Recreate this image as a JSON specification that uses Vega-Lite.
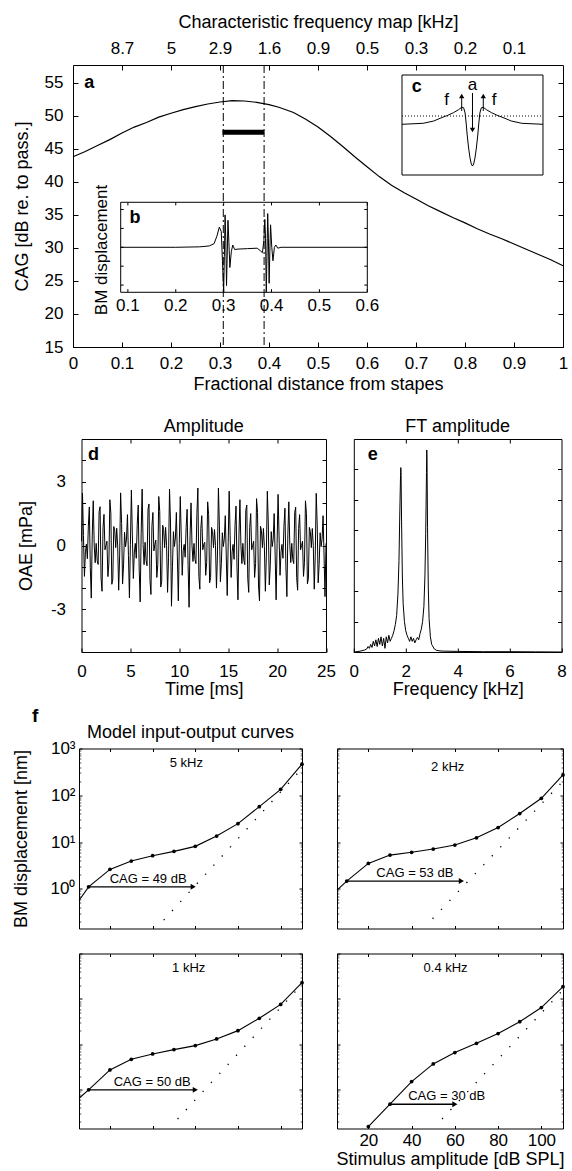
{
"$schema":"https://vega.github.io/schema/vega-lite/v6.json",
"background":"white",
"padding":{"left":11,"top":12,"right":2,"bottom":2},
"config":{
"font":"Liberation Sans",
"view":{"stroke":"black","strokeWidth":1},
"axis":{"domain":false,"grid":false,"labelFontSize":17,"titleFontSize":18,"titleFontWeight":"normal","labelColor":"black","titleColor":"black","tickColor":"black","tickWidth":1,"labelFlush":false,"labelOverlap":false,"labelFont":"Liberation Sans","titleFont":"Liberation Sans","tickSize":-4},
"title":{"font":"Liberation Sans","fontSize":18,"fontWeight":"normal","color":"black"},
"text":{"font":"Liberation Sans","color":"black"},
"line":{"color":"black","strokeWidth":1},
"rule":{"color":"black"},
"point":{"color":"black","filled":true,"opacity":1}
},
"datasets":{
"cag":[{"pos":0,"cag":43.8},{"pos":0.025,"cag":44.6},{"pos":0.05,"cag":45.5},{"pos":0.075,"cag":46.4},{"pos":0.1,"cag":47.4},{"pos":0.125,"cag":48.3},{"pos":0.15,"cag":49.0},{"pos":0.175,"cag":49.8},{"pos":0.2,"cag":50.4},{"pos":0.225,"cag":50.95},{"pos":0.25,"cag":51.4},{"pos":0.275,"cag":51.8},{"pos":0.3,"cag":52.1},{"pos":0.325,"cag":52.3},{"pos":0.35,"cag":52.25},{"pos":0.375,"cag":52.05},{"pos":0.4,"cag":51.7},{"pos":0.42,"cag":51.3},{"pos":0.45,"cag":50.5},{"pos":0.475,"cag":49.5},{"pos":0.5,"cag":48.3},{"pos":0.525,"cag":46.9},{"pos":0.55,"cag":45.4},{"pos":0.575,"cag":43.8},{"pos":0.6,"cag":42.3},{"pos":0.625,"cag":40.8},{"pos":0.65,"cag":39.5},{"pos":0.675,"cag":38.4},{"pos":0.7,"cag":37.4},{"pos":0.725,"cag":36.4},{"pos":0.75,"cag":35.5},{"pos":0.775,"cag":34.6},{"pos":0.8,"cag":33.8},{"pos":0.825,"cag":32.9},{"pos":0.85,"cag":32.1},{"pos":0.875,"cag":31.4},{"pos":0.9,"cag":30.6},{"pos":0.925,"cag":29.8},{"pos":0.95,"cag":29.0},{"pos":0.975,"cag":28.2},{"pos":1,"cag":27.3}],
"cfline":[{"pos":0.3067},{"pos":0.39}],
"bar":[{"start":0.305,"end":0.39,"cag":47.5}],
"bm":[{"pos":0.085,"disp":0},{"pos":0.2,"disp":0},{"pos":0.25,"disp":0.01},{"pos":0.27,"disp":0.03},{"pos":0.28,"disp":0.08},{"pos":0.286,"disp":0.25},{"pos":0.291,"disp":0.45},{"pos":0.295,"disp":0.35},{"pos":0.2975,"disp":-0.3},{"pos":0.3,"disp":-1.0},{"pos":0.3015,"disp":-0.2},{"pos":0.303,"disp":0.72},{"pos":0.3045,"disp":0.15},{"pos":0.306,"disp":-0.85},{"pos":0.3075,"disp":-0.15},{"pos":0.309,"disp":0.6},{"pos":0.311,"disp":0.1},{"pos":0.313,"disp":-0.45},{"pos":0.316,"disp":-0.1},{"pos":0.319,"disp":0.05},{"pos":0.323,"disp":-0.05},{"pos":0.33,"disp":-0.04},{"pos":0.35,"disp":-0.03},{"pos":0.37,"disp":-0.02},{"pos":0.377,"disp":-0.08},{"pos":0.381,"disp":-0.12},{"pos":0.384,"disp":0.15},{"pos":0.386,"disp":0.62},{"pos":0.3875,"disp":0.2},{"pos":0.389,"disp":-1.0},{"pos":0.3905,"disp":-0.2},{"pos":0.392,"disp":0.75},{"pos":0.3935,"disp":0.2},{"pos":0.395,"disp":-0.8},{"pos":0.3965,"disp":-0.1},{"pos":0.398,"disp":0.5},{"pos":0.4005,"disp":0.0},{"pos":0.403,"disp":-0.3},{"pos":0.406,"disp":0.0},{"pos":0.409,"disp":0.05},{"pos":0.413,"disp":-0.02},{"pos":0.42,"disp":0},{"pos":0.6,"disp":0}],
"bticks":[{"tick":0.1,"label":"0.1"},{"tick":0.2,"label":"0.2"},{"tick":0.3,"label":"0.3"},{"tick":0.4,"label":"0.4"},{"tick":0.5,"label":"0.5"},{"tick":0.6,"label":"0.6"}],
"byt":[{"lv":-0.84},{"lv":-0.42},{"lv":0},{"lv":0.42},{"lv":0.84}],
"cc":[{"u":-1,"v":0.507},{"u":-0.7,"v":0.517},{"u":-0.55,"v":0.54},{"u":-0.46,"v":0.567},{"u":-0.35,"v":0.597},{"u":-0.27,"v":0.623},{"u":-0.2,"v":0.652},{"u":-0.153,"v":0.677},{"u":-0.125,"v":0.672},{"u":-0.105,"v":0.62},{"u":-0.09,"v":0.52},{"u":-0.075,"v":0.4},{"u":-0.055,"v":0.27},{"u":-0.035,"v":0.17},{"u":-0.017,"v":0.11},{"u":0,"v":0.09},{"u":0.017,"v":0.11},{"u":0.035,"v":0.17},{"u":0.055,"v":0.27},{"u":0.075,"v":0.4},{"u":0.09,"v":0.52},{"u":0.105,"v":0.62},{"u":0.125,"v":0.672},{"u":0.153,"v":0.677},{"u":0.2,"v":0.652},{"u":0.27,"v":0.623},{"u":0.35,"v":0.597},{"u":0.46,"v":0.567},{"u":0.55,"v":0.54},{"u":0.7,"v":0.517},{"u":1,"v":0.507}],
"carrow":[{"u":-0.153,"from":0.64,"to":0.79,"head":"up"},{"u":0.153,"from":0.64,"to":0.79,"head":"up"},{"u":0,"from":0.82,"to":0.45,"head":"down"}],
"clab":[{"u":-0.366,"v":0.75,"label":"f"},{"u":0.305,"v":0.75,"label":"f"},{"u":0,"v":0.9,"label":"a"}],
"oae":[{"t":0,"v":0.2},{"t":0.1,"v":2.46},{"t":0.2,"v":0.47},{"t":0.3,"v":-1.45},{"t":0.4,"v":-0.3},{"t":0.5,"v":0.06},{"t":0.6,"v":-0.62},{"t":0.7,"v":0.91},{"t":0.8,"v":1.81},{"t":0.9,"v":-1.03},
{"t":1,"v":-2.47},{"t":1.1,"v":0.49},{"t":1.2,"v":2.1},{"t":1.3,"v":0.02},{"t":1.4,"v":-0.81},{"t":1.5,"v":0.1},{"t":1.6,"v":-0.69},{"t":1.7,"v":-0.89},{"t":1.8,"v":1.58},{"t":1.9,"v":1.82},
{"t":2,"v":-1.53},{"t":2.1,"v":-2.15},{"t":2.2,"v":0.83},{"t":2.3,"v":1.46},{"t":2.4,"v":-0.2},{"t":2.5,"v":0},{"t":2.6,"v":0.2},{"t":2.7,"v":-1.46},{"t":2.8,"v":-0.83},{"t":2.9,"v":2.15},
{"t":3,"v":1.53},{"t":3.1,"v":-1.82},{"t":3.2,"v":-1.58},{"t":3.3,"v":0.89},{"t":3.4,"v":0.69},{"t":3.5,"v":-0.1},{"t":3.6,"v":0.81},{"t":3.7,"v":-0.02},{"t":3.8,"v":-2.1},{"t":3.9,"v":-0.49},
{"t":4,"v":2.47},{"t":4.1,"v":1.03},{"t":4.2,"v":-1.81},{"t":4.3,"v":-0.91},{"t":4.4,"v":0.62},{"t":4.5,"v":-0.06},{"t":4.6,"v":0.3},{"t":4.7,"v":1.45},{"t":4.8,"v":-0.47},{"t":4.9,"v":-2.46},
{"t":5,"v":0.05},{"t":5.1,"v":2.6},{"t":5.2,"v":0.5},{"t":5.3,"v":-1.55},{"t":5.4,"v":-0.35},{"t":5.5,"v":0.1},{"t":5.6,"v":-0.6},{"t":5.7,"v":1.0},{"t":5.8,"v":1.9},{"t":5.9,"v":-1.1},
{"t":6,"v":-2.65},{"t":6.1,"v":0.55},{"t":6.2,"v":2.65},{"t":6.3,"v":0.05},{"t":6.4,"v":-0.9},{"t":6.5,"v":0.15},{"t":6.6,"v":-0.7},{"t":6.7,"v":-0.95},{"t":6.8,"v":1.7},{"t":6.9,"v":1.95},
{"t":7,"v":-1.6},{"t":7.1,"v":-2.3},{"t":7.2,"v":0.9},{"t":7.3,"v":1.55},{"t":7.4,"v":-0.25},{"t":7.5,"v":0.05},{"t":7.6,"v":0.25},{"t":7.7,"v":-1.5},{"t":7.8,"v":-0.9},{"t":7.9,"v":2.3},
{"t":8,"v":1.6},{"t":8.1,"v":-1.95},{"t":8.2,"v":-1.7},{"t":8.3,"v":0.95},{"t":8.4,"v":0.75},{"t":8.5,"v":-0.1},{"t":8.6,"v":0.85},{"t":8.7,"v":0},{"t":8.8,"v":-2.2},{"t":8.9,"v":-0.55},
{"t":9,"v":2.65},{"t":9.1,"v":1.1},{"t":9.2,"v":-2.85},{"t":9.3,"v":-1.0},{"t":9.4,"v":0.65},{"t":9.5,"v":-0.05},{"t":9.6,"v":0.35},{"t":9.7,"v":1.55},{"t":9.8,"v":-0.5},{"t":9.9,"v":-2.6},
{"t":10,"v":0.1},{"t":10.1,"v":2.3},{"t":10.2,"v":0.4},{"t":10.3,"v":-1.4},{"t":10.4,"v":-0.25},{"t":10.5,"v":0.05},{"t":10.6,"v":-0.55},{"t":10.7,"v":0.85},{"t":10.8,"v":1.7},{"t":10.9,"v":-0.95},
{"t":11,"v":-2.9},{"t":11.1,"v":0.45},{"t":11.2,"v":2.0},{"t":11.3,"v":0},{"t":11.4,"v":-0.75},{"t":11.5,"v":0.1},{"t":11.6,"v":-0.65},{"t":11.7,"v":-0.85},{"t":11.8,"v":1.5},{"t":11.9,"v":2.7},
{"t":12,"v":-1.45},{"t":12.1,"v":-2.05},{"t":12.2,"v":0.8},{"t":12.3,"v":1.4},{"t":12.4,"v":-0.2},{"t":12.5,"v":0.05},{"t":12.6,"v":0.15},{"t":12.7,"v":-1.4},{"t":12.8,"v":-0.8},{"t":12.9,"v":2.05},
{"t":13,"v":1.45},{"t":13.1,"v":-1.75},{"t":13.2,"v":-1.5},{"t":13.3,"v":0.85},{"t":13.4,"v":0.65},{"t":13.5,"v":-0.1},{"t":13.6,"v":0.75},{"t":13.7,"v":0},{"t":13.8,"v":-2.0},{"t":13.9,"v":-0.45},
{"t":14,"v":2.7},{"t":14.1,"v":0.95},{"t":14.2,"v":-1.7},{"t":14.3,"v":-0.85},{"t":14.4,"v":0.6},{"t":14.5,"v":-0.05},{"t":14.6,"v":0.3},{"t":14.7,"v":1.4},{"t":14.8,"v":-0.45},{"t":14.9,"v":-2.35},
{"t":15,"v":0.15},{"t":15.1,"v":2.55},{"t":15.2,"v":0.45},{"t":15.3,"v":-1.5},{"t":15.4,"v":-0.3},{"t":15.5,"v":0.05},{"t":15.6,"v":-0.65},{"t":15.7,"v":0.95},{"t":15.8,"v":1.85},{"t":15.9,"v":-1.05},
{"t":16,"v":-2.55},{"t":16.1,"v":0.5},{"t":16.2,"v":2.15},{"t":16.3,"v":0},{"t":16.4,"v":-0.85},{"t":16.5,"v":0.1},{"t":16.6,"v":-0.7},{"t":16.7,"v":-0.9},{"t":16.8,"v":1.65},{"t":16.9,"v":1.9},
{"t":17,"v":-1.55},{"t":17.1,"v":-2.2},{"t":17.2,"v":0.85},{"t":17.3,"v":1.5},{"t":17.4,"v":-0.2},{"t":17.5,"v":0},{"t":17.6,"v":0.2},{"t":17.7,"v":-1.5},{"t":17.8,"v":-0.85},{"t":17.9,"v":2.2},
{"t":18,"v":1.55},{"t":18.1,"v":-1.9},{"t":18.2,"v":-2.6},{"t":18.3,"v":0.9},{"t":18.4,"v":0.7},{"t":18.5,"v":-0.1},{"t":18.6,"v":0.8},{"t":18.7,"v":-0.05},{"t":18.8,"v":-2.15},{"t":18.9,"v":-0.5},
{"t":19,"v":2.55},{"t":19.1,"v":1.05},{"t":19.2,"v":-1.85},{"t":19.3,"v":-0.95},{"t":19.4,"v":0.65},{"t":19.5,"v":-0.05},{"t":19.6,"v":0.3},{"t":19.7,"v":1.5},{"t":19.8,"v":-0.45},{"t":19.9,"v":-2.55},
{"t":20,"v":0.1},{"t":20.1,"v":2.4},{"t":20.2,"v":0.45},{"t":20.3,"v":-1.4},{"t":20.4,"v":-0.3},{"t":20.5,"v":0.05},{"t":20.6,"v":-0.6},{"t":20.7,"v":0.9},{"t":20.8,"v":1.75},{"t":20.9,"v":-1.0},
{"t":21,"v":-2.4},{"t":21.1,"v":0.5},{"t":21.2,"v":2.05},{"t":21.3,"v":0},{"t":21.4,"v":-0.8},{"t":21.5,"v":0.1},{"t":21.6,"v":-0.65},{"t":21.7,"v":-0.85},{"t":21.8,"v":1.55},{"t":21.9,"v":1.8},
{"t":22,"v":-1.5},{"t":22.1,"v":-2.1},{"t":22.2,"v":0.8},{"t":22.3,"v":1.45},{"t":22.4,"v":-0.2},{"t":22.5,"v":0},{"t":22.6,"v":0.2},{"t":22.7,"v":-1.45},{"t":22.8,"v":-0.8},{"t":22.9,"v":2.1},
{"t":23,"v":1.5},{"t":23.1,"v":-1.8},{"t":23.2,"v":-1.55},{"t":23.3,"v":0.85},{"t":23.4,"v":0.65},{"t":23.5,"v":-0.1},{"t":23.6,"v":0.8},{"t":23.7,"v":0},{"t":23.8,"v":-2.05},{"t":23.9,"v":-0.5},
{"t":24,"v":2.45},{"t":24.1,"v":1.0},{"t":24.2,"v":-1.75},{"t":24.3,"v":-0.9},{"t":24.4,"v":0.6},{"t":24.5,"v":-0.05},{"t":24.6,"v":0.3},{"t":24.7,"v":1.4},{"t":24.8,"v":-0.45},{"t":24.9,"v":-2.4},
{"t":25,"v":0.1}],
"ft":[{"f":0,"a":0},{"f":0.2,"a":0.02},{"f":0.4,"a":0.06},{"f":0.5,"a":0.1},{"f":0.55,"a":0.18},{"f":0.6,"a":0.12},{"f":0.65,"a":0.25},{"f":0.7,"a":0.15},{"f":0.75,"a":0.35},{"f":0.8,"a":0.2},{"f":0.85,"a":0.4},{"f":0.9,"a":0.18},{"f":0.95,"a":0.45},{"f":1.0,"a":0.25},{"f":1.05,"a":0.5},{"f":1.1,"a":0.2},{"f":1.15,"a":0.45},{"f":1.2,"a":0.12},{"f":1.25,"a":0.5},{"f":1.3,"a":0.3},{"f":1.35,"a":0.55},{"f":1.4,"a":0.35},{"f":1.45,"a":0.45},{"f":1.5,"a":0.55},{"f":1.55,"a":0.7},{"f":1.6,"a":0.9},{"f":1.65,"a":1.2},{"f":1.7,"a":1.9},{"f":1.74,"a":3.0},{"f":1.77,"a":4.5},{"f":1.8,"a":5.8},{"f":1.81,"a":6.06},{"f":1.82,"a":5.9},{"f":1.84,"a":4.3},{"f":1.87,"a":2.5},{"f":1.9,"a":1.6},{"f":1.95,"a":1.0},{"f":2.0,"a":0.7},{"f":2.05,"a":0.55},{"f":2.1,"a":0.45},{"f":2.15,"a":0.35},{"f":2.2,"a":0.5},{"f":2.25,"a":0.35},{"f":2.3,"a":0.45},{"f":2.35,"a":0.3},{"f":2.4,"a":0.4},{"f":2.45,"a":0.48},{"f":2.5,"a":0.4},{"f":2.55,"a":0.6},{"f":2.6,"a":0.75},{"f":2.65,"a":1.0},{"f":2.7,"a":1.5},{"f":2.74,"a":2.5},{"f":2.77,"a":3.9},{"f":2.8,"a":5.9},{"f":2.81,"a":6.64},{"f":2.82,"a":6.3},{"f":2.84,"a":4.1},{"f":2.87,"a":2.1},{"f":2.9,"a":1.1},{"f":2.95,"a":0.5},{"f":3.0,"a":0.25},{"f":3.1,"a":0.1},{"f":3.2,"a":0.05},{"f":3.4,"a":0.03},{"f":4,"a":0.02},{"f":5,"a":0.01},{"f":6,"a":0.01},{"f":7,"a":0.005},{"f":8,"a":0}],
"io5":[{"spl":5.5,"disp":0.562,"measured":false},{"spl":10,"disp":1.1,"measured":true},{"spl":20,"disp":2.6,"measured":true},{"spl":30,"disp":3.92,"measured":true},{"spl":40,"disp":5.09,"measured":true},{"spl":50,"disp":6.31,"measured":true},{"spl":60,"disp":8.07,"measured":true},{"spl":70,"disp":13.4,"measured":true},{"spl":80,"disp":24.7,"measured":true},{"spl":90,"disp":57,"measured":true},{"spl":100,"disp":134,"measured":true},{"spl":110,"disp":461,"measured":true}],
"lin5":[{"spl":45.2,"disp":0.214},{"spl":110,"disp":372}],
"cag5":[{"from":10,"to":59,"level":1.1,"labelAt":37.9,"label":"CAG = 49 dB"}],
"io2":[{"spl":5.5,"disp":0.933,"measured":false},{"spl":10,"disp":1.46,"measured":true},{"spl":20,"disp":3.49,"measured":true},{"spl":30,"disp":5.25,"measured":true},{"spl":40,"disp":6.03,"measured":true},{"spl":50,"disp":7.08,"measured":true},{"spl":60,"disp":8.61,"measured":true},{"spl":70,"disp":12.3,"measured":true},{"spl":80,"disp":20.4,"measured":true},{"spl":90,"disp":40.7,"measured":true},{"spl":100,"disp":86.1,"measured":true},{"spl":110,"disp":272,"measured":true}],
"lin2":[{"spl":49.7,"disp":0.229},{"spl":110,"disp":200}],
"cag2":[{"from":10,"to":63,"level":1.46,"labelAt":41.5,"label":"CAG = 53 dB"}],
"io1":[{"spl":5.5,"disp":0.653,"measured":false},{"spl":10,"disp":1.0,"measured":true},{"spl":20,"disp":2.75,"measured":true},{"spl":30,"disp":4.71,"measured":true},{"spl":40,"disp":6.17,"measured":true},{"spl":50,"disp":7.69,"measured":true},{"spl":60,"disp":9.42,"measured":true},{"spl":70,"disp":13.2,"measured":true},{"spl":80,"disp":20.1,"measured":true},{"spl":90,"disp":37.5,"measured":true},{"spl":100,"disp":75.9,"measured":true},{"spl":110,"disp":228,"measured":true}],
"lin1":[{"spl":51.7,"disp":0.229},{"spl":110,"disp":209}],
"cag1":[{"from":10,"to":60,"level":1.0,"labelAt":39.8,"label":"CAG = 50 dB"}],
"io04":[{"spl":20,"disp":0.156,"measured":true},{"spl":30,"disp":0.483,"measured":true},{"spl":40,"disp":1.52,"measured":true},{"spl":50,"disp":3.72,"measured":true},{"spl":60,"disp":6.61,"measured":true},{"spl":70,"disp":10.6,"measured":true},{"spl":80,"disp":17.3,"measured":true},{"spl":90,"disp":31.6,"measured":true},{"spl":100,"disp":64.6,"measured":true},{"spl":110,"disp":186,"measured":true}],
"lin04":[{"spl":54.1,"disp":0.229},{"spl":110,"disp":158}],
"cag04":[{"from":30,"to":60,"level":0.483,"labelAt":56.2,"label":"CAG = 30 dB"}]
},
"spacing":23,
"vconcat":[
{
"width":490,"height":282,
"layer":[
{
"layer":[
{"data":{"name":"cag"},"mark":{"type":"line","strokeWidth":1.2},
"encoding":{
"x":{"field":"pos","type":"quantitative","scale":{"domain":[0,1],"nice":false,"zero":false},"axis":{"orient":"bottom","values":[0,0.1,0.2,0.3,0.4,0.5,0.6,0.7,0.8,0.9,1],"format":"~g","tickSize":-5,"labelPadding":13,"title":"Fractional distance from stapes","titlePadding":4}},
"y":{"field":"cag","type":"quantitative","scale":{"domain":[15,57.7],"nice":false,"zero":false},"axis":{"orient":"left","values":[15,20,25,30,35,40,45,50,55],"tickSize":-5,"labelPadding":15,"title":"CAG [dB re. to pass.]","titlePadding":13}}}},
{"data":{"name":"cfline"},"mark":{"type":"rule","strokeDash":[8,3,2,3],"strokeWidth":1},
"encoding":{"x":{"field":"pos","type":"quantitative","axis":{"orient":"top","values":[0.1,0.2,0.3,0.4,0.5,0.6,0.7,0.8,0.9],"labelExpr":"['8.7','5','2.9','1.6','0.9','0.5','0.3','0.2','0.1'][round(datum.value*10)-1]","tickSize":-5,"labelPadding":13,"title":"Characteristic frequency map [kHz]","titlePadding":8}}}},
{"data":{"name":"bar"},"mark":{"type":"rule","strokeWidth":5},
"encoding":{"x":{"field":"start","type":"quantitative","axis":null},"x2":{"field":"end"},
"y":{"field":"cag","type":"quantitative","axis":{"orient":"right","values":[15,20,25,30,35,40,45,50,55],"labels":false,"tickSize":-5,"title":null}}}},
{"data":{"values":[{}]},"mark":{"type":"text","fontSize":18,"fontWeight":"bold"},
"encoding":{"x":{"datum":0.033,"type":"quantitative","axis":null},"y":{"datum":55,"type":"quantitative","axis":null},"text":{"value":"a"}}}
],
"resolve":{"axis":{"x":"independent","y":"independent"}}
},
{
"layer":[
{"data":{"values":[{}]},"mark":{"type":"rect","filled":false,"color":"black","strokeWidth":1},
"encoding":{"x":{"datum":0.085,"type":"quantitative","scale":{"domain":[-0.0146,1.0087],"nice":false,"zero":false},"axis":null},"x2":{"datum":0.6},
"y":{"datum":-1,"type":"quantitative","scale":{"domain":[-2.216,4.051],"nice":false,"zero":false},"axis":null},"y2":{"datum":1}}},
{"data":{"name":"bm"},"mark":{"type":"line","strokeWidth":1},
"encoding":{"x":{"field":"pos","type":"quantitative","axis":null},"y":{"field":"disp","type":"quantitative","axis":null}}},
{"data":{"name":"bticks"},"mark":{"type":"rule"},
"encoding":{"x":{"field":"tick","type":"quantitative","axis":null},"y":{"datum":-1,"type":"quantitative","axis":null},"y2":{"datum":-0.93}}},
{"data":{"name":"bticks"},"mark":{"type":"rule"},
"encoding":{"x":{"field":"tick","type":"quantitative","axis":null},"y":{"datum":1,"type":"quantitative","axis":null},"y2":{"datum":0.93}}},
{"data":{"name":"bticks"},"mark":{"type":"text","fontSize":17,"baseline":"middle"},
"encoding":{"x":{"field":"tick","type":"quantitative","axis":null},"y":{"datum":-1.3,"type":"quantitative","axis":null},"text":{"field":"label"}}},
{"data":{"name":"byt"},"mark":{"type":"rule"},
"encoding":{"x":{"datum":0.085,"type":"quantitative","axis":null},"x2":{"datum":0.0913},"y":{"field":"lv","type":"quantitative","axis":null}}},
{"data":{"name":"byt"},"mark":{"type":"rule"},
"encoding":{"x":{"datum":0.5937,"type":"quantitative","axis":null},"x2":{"datum":0.6},"y":{"field":"lv","type":"quantitative","axis":null}}},
{"data":{"values":[{}]},"mark":{"type":"text","fontSize":18,"fontWeight":"bold"},
"encoding":{"x":{"datum":0.115,"type":"quantitative","axis":null},"y":{"datum":0.644,"type":"quantitative","axis":null},"text":{"value":"b"}}},
{"data":{"values":[{}]},"mark":{"type":"text","fontSize":17,"angle":270},
"encoding":{"x":{"datum":0.0453,"type":"quantitative","axis":null},"y":{"datum":-0.06,"type":"quantitative","axis":null},"text":{"value":"BM displacement"}}}
]
},
{
"layer":[
{"data":{"values":[{}]},"mark":{"type":"rect","fill":"white","stroke":"black","strokeWidth":1},
"encoding":{"x":{"datum":-1,"type":"quantitative","scale":{"domain":[-5.667,1.284],"nice":false,"zero":false},"axis":null},"x2":{"datum":1},
"y":{"datum":0,"type":"quantitative","scale":{"domain":[-1.72,1.1],"nice":false,"zero":false},"axis":null},"y2":{"datum":1}}},
{"data":{"values":[{}]},"mark":{"type":"rule","strokeDash":[1,2],"strokeWidth":1},
"encoding":{"x":{"datum":-1,"type":"quantitative","axis":null},"x2":{"datum":1},"y":{"datum":0.59,"type":"quantitative","axis":null}}},
{"data":{"name":"cc"},"mark":{"type":"line","strokeWidth":1},
"encoding":{"x":{"field":"u","type":"quantitative","axis":null},"y":{"field":"v","type":"quantitative","axis":null}}},
{"data":{"name":"carrow"},"mark":{"type":"rule","strokeWidth":1},
"encoding":{"x":{"field":"u","type":"quantitative","axis":null},"y":{"field":"from","type":"quantitative","axis":null},"y2":{"field":"to"}}},
{"data":{"name":"carrow"},"mark":{"type":"point","filled":true,"size":28,"color":"black","opacity":1},
"encoding":{"x":{"field":"u","type":"quantitative","axis":null},"y":{"field":"to","type":"quantitative","axis":null},
"shape":{"field":"head","type":"nominal","scale":{"domain":["up","down"],"range":["triangle-up","triangle-down"]},"legend":null}}},
{"data":{"name":"clab"},"mark":{"type":"text","fontSize":17},
"encoding":{"x":{"field":"u","type":"quantitative","axis":null},"y":{"field":"v","type":"quantitative","axis":null},"text":{"field":"label"}}},
{"data":{"values":[{}]},"mark":{"type":"text","fontSize":18,"fontWeight":"bold"},
"encoding":{"x":{"datum":-0.79,"type":"quantitative","axis":null},"y":{"datum":0.883,"type":"quantitative","axis":null},"text":{"value":"c"}}}
]
}
],
"resolve":{"scale":{"x":"independent","y":"independent"}}
},
{
"spacing":7.5,
"vconcat":[
{
"bounds":"flush",
"spacing":7.5,
"hconcat":[
{"width":1,"height":1,"view":{"stroke":null},"data":{"values":[{}]},"mark":{"type":"text","text":""},"encoding":{}},
{
"spacing":27.3,
"bounds":"flush",
"hconcat":[
{
"width":244.5,"height":213,
"title":{"text":"Amplitude","offset":3},
"layer":[
{"data":{"name":"oae"},"mark":{"type":"line","strokeWidth":1},
"encoding":{
"x":{"field":"t","type":"quantitative","scale":{"domain":[0,25],"nice":false,"zero":false},"axis":{"orient":"bottom","values":[0,5,10,15,20,25],"labelPadding":15,"title":"Time [ms]","titlePadding":1}},
"y":{"field":"v","type":"quantitative","scale":{"domain":[-5,5],"nice":false,"zero":false},"axis":{"orient":"left","values":[-4,-3,-2,-1,0,1,2,3,4],"labelExpr":"datum.value == 3 ? '3' : datum.value == 0 ? '0' : datum.value == -3 ? '-3' : ''","labelPadding":20,"title":"OAE [mPa]","titlePadding":15}}}},
{"data":{"name":"oae"},"mark":{"type":"line","opacity":0},
"encoding":{
"x":{"field":"t","type":"quantitative","axis":{"orient":"top","values":[5,10,15,20],"labels":false,"title":null}},
"y":{"field":"v","type":"quantitative","axis":{"orient":"right","values":[-4,-3,-2,-1,0,1,2,3,4],"labels":false,"title":null}}}},
{"data":{"values":[{}]},"mark":{"type":"text","fontSize":18,"fontWeight":"bold"},
"encoding":{"x":{"datum":1.23,"type":"quantitative","axis":null},"y":{"datum":4.27,"type":"quantitative","axis":null},"text":{"value":"d"}}}
],
"resolve":{"axis":{"x":"independent","y":"independent"}}
},
{
"width":207.7,"height":213,
"title":{"text":"FT amplitude","offset":3},
"layer":[
{"data":{"name":"ft"},"mark":{"type":"line","strokeWidth":1},
"encoding":{
"x":{"field":"f","type":"quantitative","scale":{"domain":[0,8],"nice":false,"zero":false},"axis":{"orient":"bottom","values":[0,2,4,6,8],"labelPadding":15,"title":"Frequency [kHz]","titlePadding":1}},
"y":{"field":"a","type":"quantitative","scale":{"domain":[0,7],"nice":false,"zero":false},"axis":{"orient":"left","values":[1,2,3,4,5,6],"labels":false,"title":null}}}},
{"data":{"name":"ft"},"mark":{"type":"line","opacity":0},
"encoding":{
"x":{"field":"f","type":"quantitative","axis":{"orient":"top","values":[2,4,6],"labels":false,"title":null}},
"y":{"field":"a","type":"quantitative","axis":{"orient":"right","values":[1,2,3,4,5,6],"labels":false,"title":null}}}},
{"data":{"values":[{}]},"mark":{"type":"text","fontSize":18,"fontWeight":"bold"},
"encoding":{"x":{"datum":0.73,"type":"quantitative","axis":null},"y":{"datum":6.49,"type":"quantitative","axis":null},"text":{"value":"e"}}}
],
"resolve":{"axis":{"x":"independent","y":"independent"}}
}
]
}
]
},
{
"bounds":"flush",
"spacing":5,
"hconcat":[
{"width":1,"height":1,"view":{"stroke":null},"data":{"values":[{}]},"mark":{"type":"text","text":""},"encoding":{}},
{
"columns":2,
"spacing":{"row":25,"column":35},
"bounds":"flush",
"align":"each",
"concat":[
{
"width":223,"height":180,
"layer":[
{"data":{"name":"io5"},"mark":{"type":"line","strokeWidth":1.1},
"encoding":{
"x":{"field":"spl","type":"quantitative","scale":{"domain":[5.5,110],"nice":false,"zero":false},"axis":{"orient":"bottom","values":[20,40,60,80,100],"labels":false,"tickSize":-3,"title":null}},
"y":{"field":"disp","type":"quantitative","scale":{"type":"log","domain":[0.1413,1000],"nice":false},"axis":{"orient":"left","values":[1,10,100,1000],"tickSize":-3,"labelPadding":7,"labelExpr":"'10' + ['⁰','¹','²','³'][round(log(datum.value)/LN10)]","title":"BM displacement [nm]","titlePadding":20}}}},
{"data":{"name":"io5"},"transform":[{"filter":"datum.measured"}],"mark":{"type":"point","filled":true,"size":14,"color":"black","opacity":1},
"encoding":{
"x":{"field":"spl","type":"quantitative","axis":{"orient":"top","values":[20,40,60,80,100],"labels":false,"tickSize":-3,"title":null}},
"y":{"field":"disp","type":"quantitative","axis":{"orient":"right","values":[1,10,100,1000],"labels":false,"tickSize":-3,"title":null}}}},
{"data":{"name":"lin5"},"mark":{"type":"line","strokeDash":[1.3,11],"strokeWidth":1.3},
"encoding":{"x":{"field":"spl","type":"quantitative","axis":null},"y":{"field":"disp","type":"quantitative","axis":{"orient":"left","values":[0.2,0.3,0.4,0.5,0.6,0.7,0.8,0.9,2,3,4,5,6,7,8,9,20,30,40,50,60,70,80,90,200,300,400,500,600,700,800,900],"labels":false,"tickSize":-1.8,"tickWidth":0.7,"title":null}}}},
{"data":{"name":"cag5"},"mark":{"type":"rule","strokeWidth":1.3},
"encoding":{"x":{"field":"from","type":"quantitative","axis":null},"x2":{"field":"to"},"y":{"field":"level","type":"quantitative","axis":{"orient":"right","values":[0.2,0.3,0.4,0.5,0.6,0.7,0.8,0.9,2,3,4,5,6,7,8,9,20,30,40,50,60,70,80,90,200,300,400,500,600,700,800,900],"labels":false,"tickSize":-1.8,"tickWidth":0.7,"title":null}}}},
{"data":{"name":"cag5"},"mark":{"type":"point","shape":"triangle-right","filled":true,"size":35,"color":"black","opacity":1},
"encoding":{"x":{"field":"to","type":"quantitative","axis":null},"y":{"field":"level","type":"quantitative","axis":null}}},
{"data":{"name":"cag5"},"mark":{"type":"text","fontSize":13,"baseline":"bottom","dy":-1},
"encoding":{"x":{"field":"labelAt","type":"quantitative","axis":null},"y":{"field":"level","type":"quantitative","axis":null},"text":{"field":"label"}}},
{"data":{"values":[{}]},"mark":{"type":"text","fontSize":13},
"encoding":{"x":{"datum":55.8,"type":"quantitative","axis":null},"y":{"datum":479,"type":"quantitative","axis":null},"text":{"value":"5 kHz"}}},
{"data":{"values":[{}]},"mark":{"type":"text","fontSize":18},
"encoding":{"x":{"datum":57.75,"type":"quantitative","axis":null},"y":{"datum":2128,"type":"quantitative","axis":null},"text":{"value":"Model input-output curves"}}},
{"data":{"values":[{}]},"mark":{"type":"text","fontSize":19,"fontWeight":"bold"},
"encoding":{"x":{"datum":-15,"type":"quantitative","axis":null},"y":{"datum":4842,"type":"quantitative","axis":null},"text":{"value":"f"}}}
],
"resolve":{"axis":{"x":"independent","y":"independent"}}
},
{
"width":226,"height":180,
"layer":[
{"data":{"name":"io2"},"mark":{"type":"line","strokeWidth":1.1},
"encoding":{
"x":{"field":"spl","type":"quantitative","scale":{"domain":[5.5,110],"nice":false,"zero":false},"axis":{"orient":"bottom","values":[20,40,60,80,100],"labels":false,"tickSize":-3,"title":null}},
"y":{"field":"disp","type":"quantitative","scale":{"type":"log","domain":[0.1413,1000],"nice":false},"axis":{"orient":"left","values":[1,10,100,1000],"labels":false,"tickSize":-3,"title":null}}}},
{"data":{"name":"io2"},"transform":[{"filter":"datum.measured"}],"mark":{"type":"point","filled":true,"size":14,"color":"black","opacity":1},
"encoding":{
"x":{"field":"spl","type":"quantitative","axis":{"orient":"top","values":[20,40,60,80,100],"labels":false,"tickSize":-3,"title":null}},
"y":{"field":"disp","type":"quantitative","axis":{"orient":"right","values":[1,10,100,1000],"labels":false,"tickSize":-3,"title":null}}}},
{"data":{"name":"lin2"},"mark":{"type":"line","strokeDash":[1.3,11],"strokeWidth":1.3},
"encoding":{"x":{"field":"spl","type":"quantitative","axis":null},"y":{"field":"disp","type":"quantitative","axis":{"orient":"left","values":[0.2,0.3,0.4,0.5,0.6,0.7,0.8,0.9,2,3,4,5,6,7,8,9,20,30,40,50,60,70,80,90,200,300,400,500,600,700,800,900],"labels":false,"tickSize":-1.8,"tickWidth":0.7,"title":null}}}},
{"data":{"name":"cag2"},"mark":{"type":"rule","strokeWidth":1.3},
"encoding":{"x":{"field":"from","type":"quantitative","axis":null},"x2":{"field":"to"},"y":{"field":"level","type":"quantitative","axis":{"orient":"right","values":[0.2,0.3,0.4,0.5,0.6,0.7,0.8,0.9,2,3,4,5,6,7,8,9,20,30,40,50,60,70,80,90,200,300,400,500,600,700,800,900],"labels":false,"tickSize":-1.8,"tickWidth":0.7,"title":null}}}},
{"data":{"name":"cag2"},"mark":{"type":"point","shape":"triangle-right","filled":true,"size":35,"color":"black","opacity":1},
"encoding":{"x":{"field":"to","type":"quantitative","axis":null},"y":{"field":"level","type":"quantitative","axis":null}}},
{"data":{"name":"cag2"},"mark":{"type":"text","fontSize":13,"baseline":"bottom","dy":-1},
"encoding":{"x":{"field":"labelAt","type":"quantitative","axis":null},"y":{"field":"level","type":"quantitative","axis":null},"text":{"field":"label"}}},
{"data":{"values":[{}]},"mark":{"type":"text","fontSize":13},
"encoding":{"x":{"datum":56.7,"type":"quantitative","axis":null},"y":{"datum":407,"type":"quantitative","axis":null},"text":{"value":"2 kHz"}}}
],
"resolve":{"axis":{"x":"independent","y":"independent"}}
},
{
"width":223,"height":175,
"layer":[
{"data":{"name":"io1"},"mark":{"type":"line","strokeWidth":1.1},
"encoding":{
"x":{"field":"spl","type":"quantitative","scale":{"domain":[5.5,110],"nice":false,"zero":false},"axis":{"orient":"bottom","values":[20,40,60,80,100],"labels":false,"tickSize":-3,"title":null}},
"y":{"field":"disp","type":"quantitative","scale":{"type":"log","domain":[0.1413,1000],"nice":false},"axis":{"orient":"left","values":[1,10,100,1000],"labels":false,"tickSize":-3,"title":null}}}},
{"data":{"name":"io1"},"transform":[{"filter":"datum.measured"}],"mark":{"type":"point","filled":true,"size":14,"color":"black","opacity":1},
"encoding":{
"x":{"field":"spl","type":"quantitative","axis":{"orient":"top","values":[20,40,60,80,100],"labels":false,"tickSize":-3,"title":null}},
"y":{"field":"disp","type":"quantitative","axis":{"orient":"right","values":[1,10,100,1000],"labels":false,"tickSize":-3,"title":null}}}},
{"data":{"name":"lin1"},"mark":{"type":"line","strokeDash":[1.3,11],"strokeWidth":1.3},
"encoding":{"x":{"field":"spl","type":"quantitative","axis":null},"y":{"field":"disp","type":"quantitative","axis":{"orient":"left","values":[0.2,0.3,0.4,0.5,0.6,0.7,0.8,0.9,2,3,4,5,6,7,8,9,20,30,40,50,60,70,80,90,200,300,400,500,600,700,800,900],"labels":false,"tickSize":-1.8,"tickWidth":0.7,"title":null}}}},
{"data":{"name":"cag1"},"mark":{"type":"rule","strokeWidth":1.3},
"encoding":{"x":{"field":"from","type":"quantitative","axis":null},"x2":{"field":"to"},"y":{"field":"level","type":"quantitative","axis":{"orient":"right","values":[0.2,0.3,0.4,0.5,0.6,0.7,0.8,0.9,2,3,4,5,6,7,8,9,20,30,40,50,60,70,80,90,200,300,400,500,600,700,800,900],"labels":false,"tickSize":-1.8,"tickWidth":0.7,"title":null}}}},
{"data":{"name":"cag1"},"mark":{"type":"point","shape":"triangle-right","filled":true,"size":35,"color":"black","opacity":1},
"encoding":{"x":{"field":"to","type":"quantitative","axis":null},"y":{"field":"level","type":"quantitative","axis":null}}},
{"data":{"name":"cag1"},"mark":{"type":"text","fontSize":13,"baseline":"bottom","dy":-1},
"encoding":{"x":{"field":"labelAt","type":"quantitative","axis":null},"y":{"field":"level","type":"quantitative","axis":null},"text":{"field":"label"}}},
{"data":{"values":[{}]},"mark":{"type":"text","fontSize":13},
"encoding":{"x":{"datum":56.9,"type":"quantitative","axis":null},"y":{"datum":468,"type":"quantitative","axis":null},"text":{"value":"1 kHz"}}}
],
"resolve":{"axis":{"x":"independent","y":"independent"}}
},
{
"width":226,"height":175,
"layer":[
{"data":{"name":"io04"},"mark":{"type":"line","strokeWidth":1.1},
"encoding":{
"x":{"field":"spl","type":"quantitative","scale":{"domain":[5.5,110],"nice":false,"zero":false},"axis":{"orient":"bottom","values":[20,40,60,80,100],"tickSize":-3,"labelPadding":7,"title":"Stimulus amplitude [dB SPL]","titlePadding":2}},
"y":{"field":"disp","type":"quantitative","scale":{"type":"log","domain":[0.1413,1000],"nice":false},"axis":{"orient":"left","values":[1,10,100,1000],"labels":false,"tickSize":-3,"title":null}}}},
{"data":{"name":"io04"},"transform":[{"filter":"datum.measured"}],"mark":{"type":"point","filled":true,"size":14,"color":"black","opacity":1},
"encoding":{
"x":{"field":"spl","type":"quantitative","axis":{"orient":"top","values":[20,40,60,80,100],"labels":false,"tickSize":-3,"title":null}},
"y":{"field":"disp","type":"quantitative","axis":{"orient":"right","values":[1,10,100,1000],"labels":false,"tickSize":-3,"title":null}}}},
{"data":{"name":"lin04"},"mark":{"type":"line","strokeDash":[1.3,11],"strokeWidth":1.3},
"encoding":{"x":{"field":"spl","type":"quantitative","axis":null},"y":{"field":"disp","type":"quantitative","axis":{"orient":"left","values":[0.2,0.3,0.4,0.5,0.6,0.7,0.8,0.9,2,3,4,5,6,7,8,9,20,30,40,50,60,70,80,90,200,300,400,500,600,700,800,900],"labels":false,"tickSize":-1.8,"tickWidth":0.7,"title":null}}}},
{"data":{"name":"cag04"},"mark":{"type":"rule","strokeWidth":1.3},
"encoding":{"x":{"field":"from","type":"quantitative","axis":null},"x2":{"field":"to"},"y":{"field":"level","type":"quantitative","axis":{"orient":"right","values":[0.2,0.3,0.4,0.5,0.6,0.7,0.8,0.9,2,3,4,5,6,7,8,9,20,30,40,50,60,70,80,90,200,300,400,500,600,700,800,900],"labels":false,"tickSize":-1.8,"tickWidth":0.7,"title":null}}}},
{"data":{"name":"cag04"},"mark":{"type":"point","shape":"triangle-right","filled":true,"size":35,"color":"black","opacity":1},
"encoding":{"x":{"field":"to","type":"quantitative","axis":null},"y":{"field":"level","type":"quantitative","axis":null}}},
{"data":{"name":"cag04"},"mark":{"type":"text","fontSize":13,"baseline":"bottom","dy":-1},
"encoding":{"x":{"field":"labelAt","type":"quantitative","axis":null},"y":{"field":"level","type":"quantitative","axis":null},"text":{"field":"label"}}},
{"data":{"values":[{}]},"mark":{"type":"text","fontSize":13},
"encoding":{"x":{"datum":55.7,"type":"quantitative","axis":null},"y":{"datum":468,"type":"quantitative","axis":null},"text":{"value":"0.4 kHz"}}}
],
"resolve":{"axis":{"x":"independent","y":"independent"}}
}
]
}
]
}
]
}
]
}
